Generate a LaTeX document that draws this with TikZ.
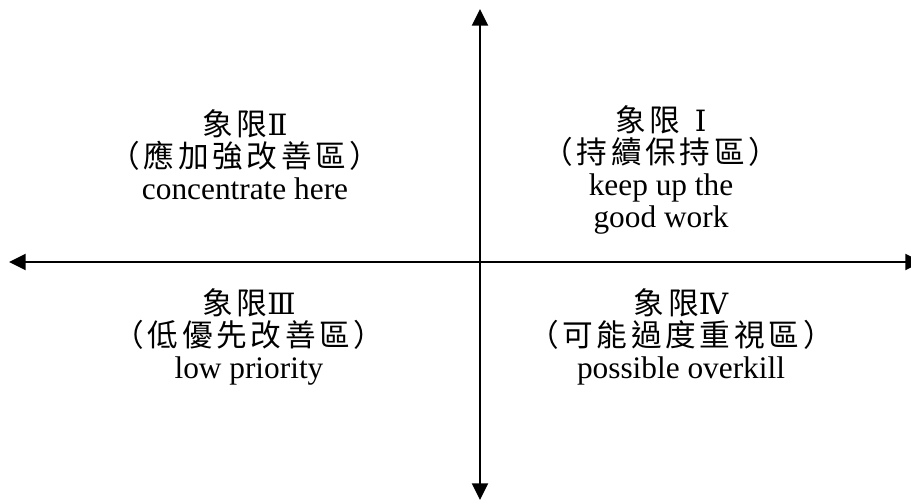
\documentclass[tikz,border=0pt]{standalone}
\usepackage{fontspec}
\setmainfont{Liberation Serif}
\newfontfamily\cjk[LetterSpace=12]{Noto Sans CJK TC}
\newfontfamily\rom{DejaVu Serif}
\usetikzlibrary{arrows.meta}
\begin{document}
\begin{tikzpicture}[x=0.75pt,y=-0.75pt,
  axis/.style={line width=1.5pt,{Triangle[length=12.5pt,width=12pt]}-{Triangle[length=12.5pt,width=12pt]}},
  quad/.style={inner sep=0pt,align=center,font=\fontsize{23.5}{24}\selectfont}]
\useasboundingbox (0,0) rectangle (911,503);
\coordinate (top) at (480,9);
\coordinate (bottom) at (480,500);
\coordinate (left) at (9,262);
\coordinate (right) at (922,262);
\draw[axis] (top) -- (bottom);
\draw[axis] (left) -- (right);
\node[quad] (q1) at (661,170) {{\cjk\fontsize{23}{24}\selectfont 象限}\hspace{0.45em}{\rom\fontsize{22}{24}\selectfont Ⅰ}\\{\cjk\fontsize{23}{24}\selectfont （持續保持區）}\\keep up the\\good work};
\node[quad] (q2) at (245,155) {{\cjk\fontsize{23}{24}\selectfont 象限}{\rom\fontsize{22}{24}\selectfont Ⅱ}\\{\cjk\fontsize{23}{24}\selectfont （應加強改善區）}\\concentrate here};
\node[quad] (q3) at (249,337) {{\cjk\fontsize{23}{24}\selectfont 象限}{\rom\fontsize{22}{24}\selectfont Ⅲ}\\{\cjk\fontsize{23}{24}\selectfont （低優先改善區）}\\low priority};
\node[quad] (q4) at (681,337) {{\cjk\fontsize{23}{24}\selectfont 象限}{\rom\fontsize{22}{24}\selectfont Ⅳ}\\{\cjk\fontsize{23}{24}\selectfont （可能過度重視區）}\\possible overkill};
\end{tikzpicture}
\end{document}
